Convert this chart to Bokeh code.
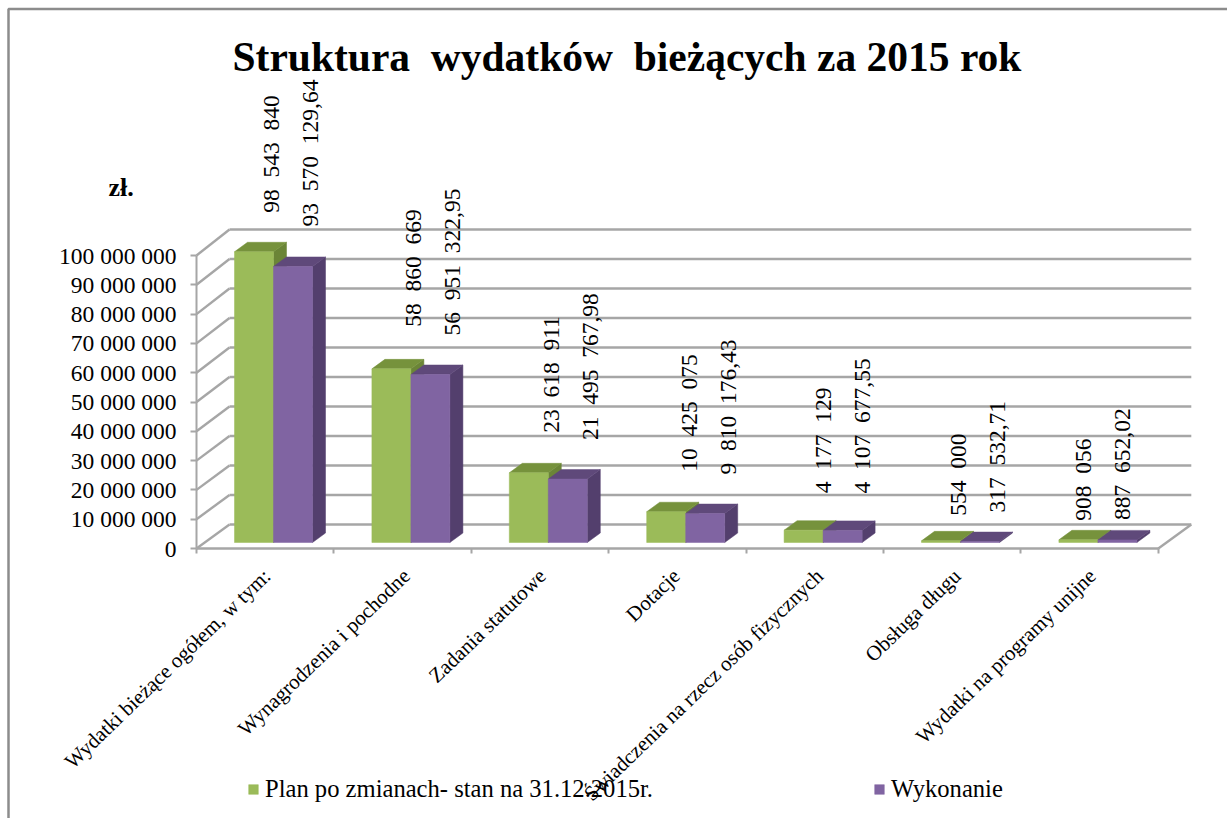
from bokeh.embed import file_html
from bokeh.resources import INLINE
from bokeh.plotting import figure
from bokeh.models import (ColumnDataSource, FixedTicker, Label, Legend, LegendItem, LinearAxis,
                          Range1d, AllLabels)
from bokeh.core.properties import value
import math

# ---- data ----
categories = ["Wydatki bieżące ogółem, w tym:", "Wynagrodzenia i pochodne", "Zadania statutowe", "Dotacje",
              "Świadczenia na rzecz osób fizycznych", "Obsługa długu", "Wydatki na programy unijne"]
plan = [98543840, 58860669, 23618911, 10425075, 4177129, 554000, 908056]
wykonanie = [93570129.64, 56951322.95, 21495767.98, 9810176.43, 4107677.55, 317532.71, 887652.02]
NB = "\u00a0 "
plan_labels = [f"98{NB}543{NB}840", f"58{NB}860{NB}669", f"23{NB}618{NB}911", f"10{NB}425{NB}075",
               f"4{NB}177{NB}129", f"554{NB}000", f"908{NB}056"]
wyk_labels = [f"93{NB}570{NB}129,64", f"56{NB}951{NB}322,95", f"21{NB}495{NB}767,98", f"9{NB}810{NB}176,43",
              f"4{NB}107{NB}677,55", f"317{NB}532,71", f"887{NB}652,02"]
y_ticks = [0, 10000000, 20000000, 30000000, 40000000, 50000000, 60000000, 70000000, 80000000, 90000000, 100000000]
y_tick_labels = ["0", "10 000 000", "20 000 000", "30 000 000", "40 000 000", "50 000 000", "60 000 000",
                 "70 000 000", "80 000 000", "90 000 000", "100 000 000"]
series_names = ["Plan po zmianach- stan na 31.12.2015r.", "Wykonanie"]
title_text = f"Struktura{NB}wydatków{NB}bieżących za 2015 rok"
unit_text = "zł."

# ---- layout (pixels) ----
W, H = 1227, 818
ORIGIN_X, ORIGIN_Y = 196, 548
PX_CAT = 137.4
PX_VAL = 2.93e-6
DEEP = 2.95 / 2.93  # values grow slightly further back in the picture's depth
# depth projection in data units
WALL_DX, WALL_DY = 33 / PX_CAT, 24 / PX_VAL
BAR_DX, BAR_DY = 13 / PX_CAT, 9.5 / PX_VAL
BAR_X0, BAR_W, BAR_BASE = 38 / PX_CAT, 39 / PX_CAT, 6 / PX_VAL

# per-bar offset of value labels (pixels) from the bar's front-top centre
label_dx = [17, 22, 22, 23, 19, 17, 5]
label_gap_plan = [39, 42, 40, 40, 37, 25, 19]
label_gap_wyk = [40, 39, 39, 39, 37, 29, 20]
# per-category shift (pixels) of the rotated category names from the category centre
name_shift = [2, 4, 2.5, -1, 5, 5, 3]

SERIF = "Liberation Serif"
GRID = "#a6a6a6"
FRONT = ["#9bbb59", "#8064a2"]
TOP = ["#76923c", "#5f497a"]
SIDE = ["#6b8537", "#533f6d"]


def dx(px):
    return px / PX_CAT


def dy(px):
    return px / PX_VAL


p = figure(width=W, height=H, output_backend="svg", toolbar_location=None,
           x_range=Range1d(dx(-ORIGIN_X), dx(W - ORIGIN_X)),
           y_range=Range1d(dy(ORIGIN_Y - H), dy(ORIGIN_Y)),
           min_border=0, outline_line_color=None, background_fill_color="white",
           x_axis_type=None, y_axis_type=None)
p.xgrid.visible = False
p.ygrid.visible = False

n = len(categories)

# chart border (left and top edges of the picture)
p.line(x=[dx(8 - ORIGIN_X), dx(8 - ORIGIN_X), dx(W - ORIGIN_X)], y=[dy(ORIGIN_Y - H), dy(ORIGIN_Y - 8.5), dy(ORIGIN_Y - 8.5)],
       line_color="#8c8c8c", line_width=2.5)

# back wall and side wall grid lines
back_y = [v * DEEP + WALL_DY for v in y_ticks]
p.segment(x0=[WALL_DX] * len(y_ticks), y0=back_y, x1=[n + WALL_DX] * len(y_ticks), y1=back_y,
          line_color=GRID, line_width=2.4)
p.segment(x0=[0] * len(y_ticks), y0=y_ticks, x1=[WALL_DX] * len(y_ticks), y1=back_y,
          line_color=GRID, line_width=2.4)
# floor right edge
p.segment(x0=[n], y0=[0], x1=[n + WALL_DX], y1=[WALL_DY], line_color=GRID, line_width=2.4)

legend_items = []
for s, vals in enumerate([plan, wykonanie]):
    lefts = [i + BAR_X0 + s * BAR_W for i in range(n)]
    rights = [l + BAR_W for l in lefts]
    tops = [BAR_BASE + v * DEEP for v in vals]
    bottoms = [BAR_BASE] * n
    p.patches(
        xs=[[r, r + BAR_DX, r + BAR_DX, r] for r in rights],
        ys=[[b, b + BAR_DY, t + BAR_DY, t] for b, t in zip(bottoms, tops)],
        fill_color=SIDE[s], line_color=SIDE[s], line_width=0.5)
    p.patches(
        xs=[[l, r, r + BAR_DX, l + BAR_DX] for l, r in zip(lefts, rights)],
        ys=[[t, t, t + BAR_DY, t + BAR_DY] for t in tops],
        fill_color=TOP[s], line_color=TOP[s], line_width=0.5)
    q = p.quad(left=lefts, right=rights, bottom=bottoms, top=tops,
               fill_color=FRONT[s], line_color=FRONT[s], line_width=0.5)
    legend_items.append(LegendItem(label=series_names[s], renderers=[q]))

# value labels
for s, (vals, labs, gaps) in enumerate([(plan, plan_labels, label_gap_plan), (wykonanie, wyk_labels, label_gap_wyk)]):
    src = ColumnDataSource(dict(
        x=[i + BAR_X0 + (s + 0.5) * BAR_W for i in range(n)],
        y=[BAR_BASE + v * DEEP for v in vals],
        t=labs,
        xo=label_dx,
        yo=[-g for g in gaps],
    ))
    p.text(x="x", y="y", text="t", source=src, x_offset="xo", y_offset="yo", angle=math.pi / 2,
           text_align="left", text_baseline="middle", text_color="black",
           text_font=value(SERIF), text_font_size="23.5px")

# y axis
yax = LinearAxis(ticker=FixedTicker(ticks=y_ticks), bounds=(0, 100000000), fixed_location=0,
                 major_label_overrides={t: l for t, l in zip(y_ticks, y_tick_labels)})
yax.axis_line_color = GRID
yax.axis_line_width = 2
yax.major_tick_line_color = GRID
yax.major_tick_line_width = 2
yax.major_tick_in = 0
yax.major_tick_out = 6
yax.minor_tick_line_color = None
yax.major_label_standoff = 14
yax.major_label_text_font = SERIF
yax.major_label_text_font_size = "23.5px"
yax.major_label_text_color = "black"
p.add_layout(yax, "left")

# x axis: tick marks at category borders
border_ticks = list(range(n + 1))
xax = LinearAxis(ticker=FixedTicker(ticks=border_ticks), bounds=(0, n), fixed_location=0,
                 major_label_overrides={t: "" for t in border_ticks})
xax.axis_line_color = GRID
xax.axis_line_width = 2.4
xax.major_tick_line_color = GRID
xax.major_tick_line_width = 2
xax.major_tick_in = 0
xax.major_tick_out = 5
xax.minor_tick_line_color = None
p.add_layout(xax, "below")

# x axis: category names, rotated
label_pos = [i + 0.5 + dx(s) for i, s in enumerate(name_shift)]
xlab = LinearAxis(ticker=FixedTicker(ticks=label_pos), fixed_location=0,
                  major_label_overrides={t: c for t, c in zip(label_pos, categories)},
                  major_label_orientation=math.radians(44), major_label_policy=AllLabels())
xlab.axis_line_color = None
xlab.major_tick_line_color = None
xlab.minor_tick_line_color = None
xlab.major_label_standoff = 18
xlab.major_label_text_font = SERIF
xlab.major_label_text_font_size = "21px"
xlab.major_label_text_color = "black"
p.add_layout(xlab, "below")

# title
p.add_layout(Label(x=dx(232 - ORIGIN_X), y=dy(ORIGIN_Y - 56), text=title_text, text_font=SERIF,
                   text_font_size="41.5px", text_font_style="bold", text_color="black",
                   text_baseline="middle"))

# unit label
p.add_layout(Label(x=dx(108 - ORIGIN_X), y=dy(ORIGIN_Y - 187), text=unit_text, text_font=SERIF,
                   text_font_size="26px", text_font_style="bold", text_color="black",
                   text_baseline="middle"))

# legend
legend = Legend(items=legend_items, location=(247, 15), orientation="horizontal",
                background_fill_alpha=0, border_line_color=None, padding=0, margin=0,
                spacing=220, glyph_width=12, glyph_height=12, label_standoff=6,
                label_text_font=SERIF, label_text_font_size="24.6px", label_text_color="black")
p.add_layout(legend)

open("out.html", "w").write(file_html(p, INLINE))
